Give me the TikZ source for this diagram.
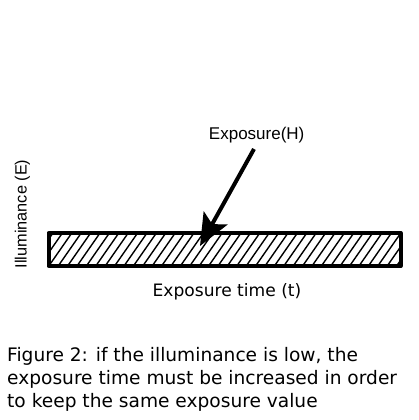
\documentclass[tikz,border=0pt]{standalone}
\usepackage{fontspec}
\setmainfont{DejaVu Sans}
\newfontfamily\arialfont{Liberation Sans}
\usetikzlibrary{arrows.meta}
\tikzset{
  label/.style={inner sep=0pt, font=\arialfont\fontsize{17}{20}\selectfont},
  verd/.style={inner sep=0pt, font=\fontsize{17.1}{22.7}\selectfont},
  captxt/.style={inner sep=0pt, font=\fontsize{18.6}{22.7}\selectfont},
  bar/.style={line width=4pt, line join=round},
  hatch/.style={line width=1.4pt},
  bigarrow/.style={line width=4pt, -{Stealth[length=32pt, width=27pt, inset=7pt]}}
}
\begin{document}
\begin{tikzpicture}[x=1pt, y=-1pt]
\useasboundingbox (0,0) rectangle (419,420);
% hatching
\begin{scope}
  \clip (48.5,233) rectangle (400.5,266);
  \foreach \i in {0,...,42} {
    \draw[hatch] ({30+\i*9.4},266) -- ({30+\i*9.4+23},233);
  }
\end{scope}
\node[draw, bar, minimum width=352pt, minimum height=33pt, inner sep=0pt] (bar) at (224.5,249.5) {};
\node[label, anchor=base] (H) at (256.7,139) {Exposure(H)};
\coordinate (tail) at (254,149);
\coordinate (tip) at (200,246);
\draw[bigarrow] (tail) -- (tip);
\node[verd, anchor=base] (t) at (227,296.7) {Exposure time (t)};
\node[label, font=\arialfont\fontsize{16.3}{20}\selectfont, rotate=90, anchor=base] (E) at (26.5,214) {Illuminance (E)};
\node[captxt, anchor=base west, align=left] (cap) at (7,407.3) {Figure 2: if the illuminance is low, the\\exposure time must be increased in order\\to keep the same exposure value};
\end{tikzpicture}
\end{document}
